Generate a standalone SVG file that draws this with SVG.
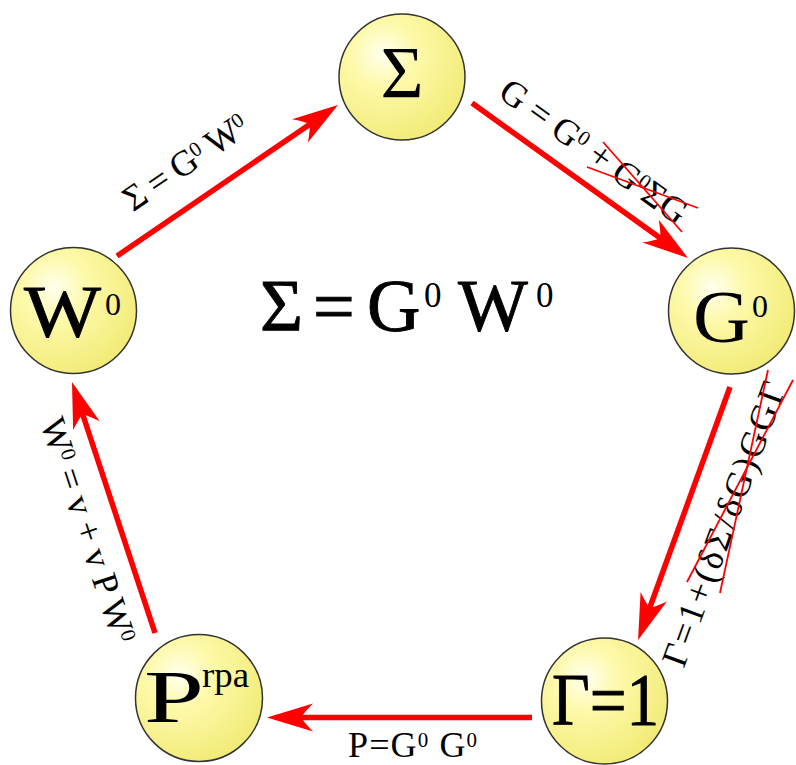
<svg xmlns="http://www.w3.org/2000/svg" width="796" height="765" viewBox="0 0 796 765">
<style>
text{font-family:"Liberation Serif","Times New Roman",serif;fill:#000}
.node circle{fill:url(#ball);stroke:#333;stroke-width:1.5}
.big{font-size:74px}
.heavy{stroke:#000;stroke-width:0.9}
.sup0{font-size:32px}
.lbl{font-size:36px}
.sup{font-size:21px}
.edge{stroke:#ff0000;stroke-width:5.5;fill:none;marker-end:url(#head)}
.cross{stroke:#ff0000;stroke-width:1.8;fill:none}
</style>
<defs>
<radialGradient id="ball" cx="0.35" cy="0.32" r="0.75">
<stop offset="0" stop-color="#ffffee"/>
<stop offset="0.35" stop-color="#fdf9a9"/>
<stop offset="1" stop-color="#f1ea74"/>
</radialGradient>
<marker id="head" viewBox="-47 -15 48 30" markerWidth="48" markerHeight="30" refX="-30" refY="0" markerUnits="userSpaceOnUse" orient="auto">
<path d="M0,0 L-46,-14 Q-38,-6 -34,0 Q-38,6 -46,14 Z" fill="#ff0000"/>
</marker>
</defs>
<rect width="796" height="765" fill="#ffffff"/>
<g id="connectors">
<line class="edge" x1="117" y1="256" x2="313.2" y2="121.9"/>
<line class="edge" x1="472" y1="103" x2="663.6" y2="240.5"/>
<line class="edge" x1="730" y1="387" x2="648.3" y2="611.8"/>
<line class="edge" x1="532" y1="717.5" x2="297" y2="717.5"/>
<line class="edge" x1="155" y1="633" x2="81.4" y2="410.5"/>
<text class="lbl" text-anchor="middle" textLength="143" transform="translate(192,172) rotate(-34.3)">Σ = G<tspan class="sup" dy="-10">0</tspan><tspan dy="10"> W</tspan><tspan class="sup" dy="-10">0</tspan></text>
<text class="lbl" text-anchor="middle" textLength="222" transform="translate(587,161) rotate(35.7)">G = G<tspan class="sup" dy="-10">0</tspan><tspan dy="10"> + G</tspan><tspan class="sup" dy="-10">0</tspan><tspan dy="10">ΣG</tspan></text>
<line class="cross" x1="603" y1="142" x2="682" y2="232"/>
<line class="cross" x1="587" y1="167" x2="698" y2="208"/>
<text class="lbl" font-size="39" text-anchor="middle" textLength="300" transform="translate(735,528) rotate(-70)">Γ=1+(δΣ/δG)GGΓ</text>
<line class="cross" x1="687" y1="582" x2="793" y2="380"/>
<line class="cross" x1="720" y1="593" x2="768" y2="370"/>
<text class="lbl" x="348" y="757" textLength="129">P=G<tspan class="sup" dy="-10">0</tspan><tspan dy="10"> G</tspan><tspan class="sup" dy="-10">0</tspan></text>
<text class="lbl" text-anchor="middle" textLength="235" transform="translate(77,534) rotate(71.7)">W<tspan class="sup" dy="-10">0</tspan><tspan dy="10"> = v + v P W</tspan><tspan class="sup" dy="-10">0</tspan></text>
</g>
<g id="node-sigma" class="node">
<circle cx="402" cy="77" r="63"/>
<text class="big" x="402" y="98" text-anchor="middle">Σ</text>
</g>
<g id="node-g0" class="node">
<circle cx="731.5" cy="311" r="63"/>
<text class="big" x="693" y="342" textLength="57" lengthAdjust="spacingAndGlyphs">G</text>
<text class="sup0" x="752" y="317">0</text>
</g>
<g id="node-gamma" class="node">
<circle cx="604.5" cy="701" r="63"/>
<text class="big heavy" x="552" y="725" textLength="107" lengthAdjust="spacingAndGlyphs">Γ=1</text>
</g>
<g id="node-prpa" class="node">
<circle cx="199" cy="698" r="63.5"/>
<text class="big" x="144" y="722" textLength="60" lengthAdjust="spacingAndGlyphs">P</text>
<text x="202" y="687" font-size="36" textLength="47" lengthAdjust="spacingAndGlyphs">rpa</text>
</g>
<g id="node-w0" class="node">
<circle cx="73.5" cy="310.5" r="63"/>
<text class="big heavy" x="24" y="337" textLength="77" lengthAdjust="spacingAndGlyphs">W</text>
<text class="sup0" x="105" y="315">0</text>
</g>
<g id="formula">
<text class="big heavy" x="260" y="331" font-size="72">Σ</text>
<text class="big heavy" x="313" y="331" font-size="72">=</text>
<text class="big heavy" x="367" y="331" font-size="72">G</text>
<text x="424" y="307" font-size="35">0</text>
<text class="big heavy" x="458" y="331" font-size="72">W</text>
<text x="536" y="307" font-size="35">0</text>
</g>
</svg>
